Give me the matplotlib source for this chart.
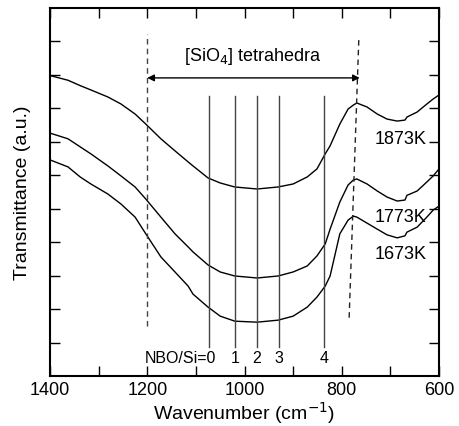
import numpy as np
import matplotlib
matplotlib.use('Agg')
import matplotlib.pyplot as plt

plt.rcParams['font.family'] = ['Liberation Sans', 'DejaVu Sans']

# wavenumbers (cm-1) at which the curves were read
wn = [1400, 1363, 1338, 1316, 1281, 1254, 1225, 1203, 1172, 1143, 1116, 1106,
      1075, 1050, 1020, 974, 931, 900, 871, 851, 834, 824, 804, 787, 776, 769,
      748, 727, 707, 686, 670, 666, 645, 625, 612, 600]

t1873 = [8.98, 8.84, 8.68, 8.55, 8.34, 8.13, 7.83, 7.53, 7.09, 6.73, 6.40, 6.28,
         5.92, 5.77, 5.65, 5.59, 5.65, 5.74, 5.95, 6.19, 6.64, 6.88, 7.53, 7.98,
         8.10, 8.16, 8.04, 7.83, 7.68, 7.62, 7.65, 7.74, 7.89, 8.13, 8.28, 8.40]
t1773 = [7.26, 7.09, 6.85, 6.64, 6.28, 5.98, 5.65, 5.29, 4.75, 4.25, 3.86, 3.71,
         3.32, 3.11, 2.99, 2.93, 2.99, 3.11, 3.29, 3.59, 3.95, 4.39, 5.20, 5.71,
         5.86, 5.89, 5.74, 5.53, 5.35, 5.23, 5.26, 5.40, 5.53, 5.80, 5.98, 6.19]
t1673 = [6.46, 6.25, 5.95, 5.74, 5.44, 5.14, 4.75, 4.25, 3.56, 3.11, 2.69, 2.45,
         2.06, 1.79, 1.64, 1.61, 1.67, 1.79, 2.06, 2.36, 2.69, 2.99, 4.25, 4.66,
         4.78, 4.75, 4.57, 4.39, 4.22, 4.13, 4.19, 4.30, 4.45, 4.75, 4.96, 5.08]

temps = ['1873K', '1773K', '1673K']
label_y = [7.09, 4.78, 3.65]

# NBO/Si band positions
nbo_pos = [1073, 1020, 975, 930, 837]
nbo_lab = ['NBO/Si=0', '1', '2', '3', '4']

fig = plt.figure(figsize=(4.6, 4.27), dpi=100)
ax = fig.add_axes([0.1087, 0.117, 0.8457, 0.862])

for serie in [t1873, t1773, t1673]:
    ax.plot(wn, serie, color='black', lw=1.0)

for i in range(len(temps)):
    ax.text(732, label_y[i], temps[i], fontsize=13, va='center', ha='left')

for p in nbo_pos:
    ax.plot([p, p], [0.87, 8.37], color='#444444', lw=1.0)

ax.text(1058, 0.54, nbo_lab[0], fontsize=11.5, ha='right', va='center')
for i in range(1, len(nbo_pos)):
    ax.text(nbo_pos[i], 0.54, nbo_lab[i], fontsize=11.5, ha='center', va='center')

# tetrahedra region
ax.plot([1200, 1200], [1.49, 10.22], color='#444444', lw=1.0, ls=(0, (4, 3)))
ax.plot([765, 785], [10.04, 1.67], color='#222222', lw=1.0, ls=(0, (4, 3)))
ax.annotate('', xy=(1200, 8.91), xytext=(763, 8.91),
            arrowprops=dict(arrowstyle='<|-|>', color='black', lw=1.0,
                            mutation_scale=10, shrinkA=0, shrinkB=0))
ax.text(983, 9.57, '[SiO$_4$] tetrahedra', fontsize=13, ha='center', va='center')

ax.set_xlim(1400, 600)
ax.set_ylim(0, 11)
ax.set_xticks([1400, 1200, 1000, 800, 600])
ax.set_xticks(np.arange(600, 1401, 100), minor=True)
ax.set_yticks(np.arange(1, 11))
ax.set_yticklabels([])
ax.tick_params(which='both', direction='in', top=True, right=True,
               length=7, width=1.0, labelsize=13)
for s in ax.spines.values():
    s.set_linewidth(1.5)

ax.set_xlabel('Wavenumber (cm$^{-1}$)', fontsize=14, labelpad=1)
ax.set_ylabel('Transmittance (a.u.)', fontsize=14, labelpad=10)

fig.savefig('out.png', dpi=100)
